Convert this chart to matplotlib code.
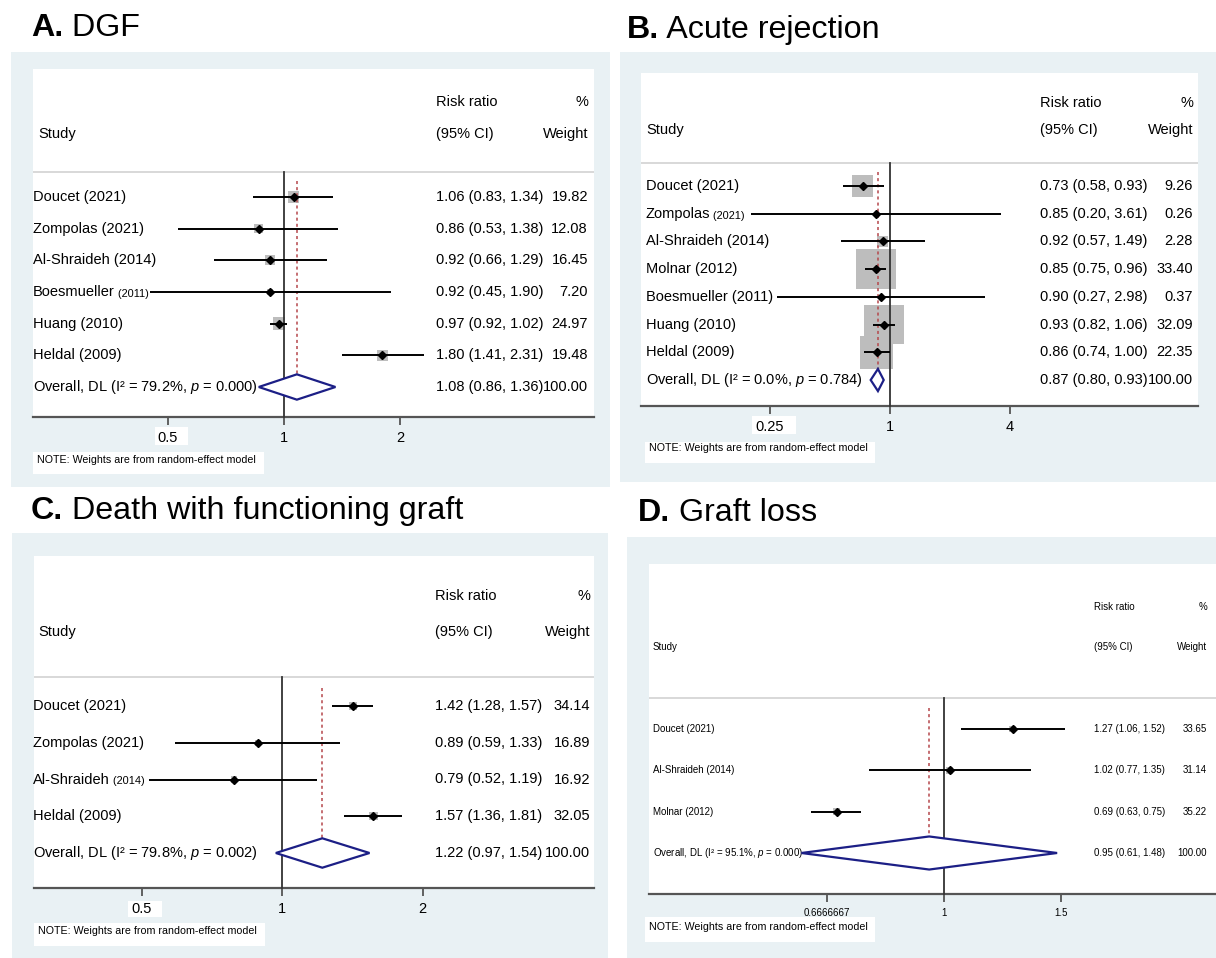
import numpy as np
import matplotlib.pyplot as plt
import matplotlib.transforms as mtransforms
from matplotlib.patches import Rectangle
from matplotlib.ticker import NullLocator

plt.rcParams['font.family'] = 'Liberation Sans'
plt.rcParams['mathtext.fontset'] = 'custom'
plt.rcParams['mathtext.rm'] = 'Liberation Sans'
plt.rcParams['mathtext.it'] = 'Liberation Sans:italic'
plt.rcParams['mathtext.bf'] = 'Liberation Sans:bold'

W, H = 1216, 958
BG = '#e9f1f4'
BOX = '#bdbdbd'
NAVY = '#1c1f86'
RED = '#b5474b'

# ---------------------------
# data
# ---------------------------
dgf_studies = ["Doucet (2021)", "Zompolas (2021)", "Al-Shraideh (2014)",
               "Boesmueller (2011)", "Huang (2010)", "Heldal (2009)"]
dgf_rr = [1.06, 0.86, 0.92, 0.92, 0.97, 1.80]
dgf_lo = [0.83, 0.53, 0.66, 0.45, 0.92, 1.41]
dgf_hi = [1.34, 1.38, 1.29, 1.90, 1.02, 2.31]
dgf_weight = [19.82, 12.08, 16.45, 7.20, 24.97, 19.48]
dgf_overall = [1.08, 0.86, 1.36]
dgf_i2, dgf_p = 79.2, "0.000"

ar_studies = ["Doucet (2021)", "Zompolas (2021)", "Al-Shraideh (2014)", "Molnar (2012)",
              "Boesmueller (2011)", "Huang (2010)", "Heldal (2009)"]
ar_rr = [0.73, 0.85, 0.92, 0.85, 0.90, 0.93, 0.86]
ar_lo = [0.58, 0.20, 0.57, 0.75, 0.27, 0.82, 0.74]
ar_hi = [0.93, 3.61, 1.49, 0.96, 2.98, 1.06, 1.00]
ar_weight = [9.26, 0.26, 2.28, 33.40, 0.37, 32.09, 22.35]
ar_overall = [0.87, 0.80, 0.93]
ar_i2, ar_p = 0.0, "0.784"

dwfg_studies = ["Doucet (2021)", "Zompolas (2021)", "Al-Shraideh (2014)", "Heldal (2009)"]
dwfg_rr = [1.42, 0.89, 0.79, 1.57]
dwfg_lo = [1.28, 0.59, 0.52, 1.36]
dwfg_hi = [1.57, 1.33, 1.19, 1.81]
dwfg_weight = [34.14, 16.89, 16.92, 32.05]
dwfg_overall = [1.22, 0.97, 1.54]
dwfg_i2, dwfg_p = 79.8, "0.002"

gl_studies = ["Doucet (2021)", "Al-Shraideh (2014)", "Molnar (2012)"]
gl_rr = [1.27, 1.02, 0.69]
gl_lo = [1.06, 0.77, 0.63]
gl_hi = [1.52, 1.35, 0.75]
gl_weight = [33.65, 31.14, 35.22]
gl_overall = [0.95, 0.61, 1.48]
gl_i2, gl_p = 95.1, "0.000"


def rect(fig, x0, y0, x1, y1, color, z):
    fig.patches.append(Rectangle((x0 / W, 1 - y1 / H), (x1 - x0) / W, (y1 - y0) / H,
                                 transform=fig.transFigure, facecolor=color,
                                 edgecolor='none', zorder=z))


def forest(fig, letter, title, studies, rr, lo, hi, wt, overall, i2, pval,
           ticks, ticklabels, lay):
    """Stata-style forest plot; lay holds the pixel layout of one panel."""
    rect(fig, *lay['bg'], BG, -1)
    px0, py0, px1, py1 = lay['plot']
    ax = fig.add_axes([px0 / W, 1 - py1 / H, (px1 - px0) / W, (py1 - py0) / H])
    ax.set_facecolor('white')
    ax.set_xscale('log')
    one, ppd = lay['one'], lay['ppd']
    ax.set_xlim(2 ** ((px0 - one) / ppd), 2 ** ((px1 - one) / ppd))

    n = len(studies)
    r0 = lay['row0']
    step = (lay['overall_y'] - r0) / n

    def dy(py):
        return (py - r0) / step

    ax.set_ylim(dy(py1), dy(py0))
    fs = lay['fs']
    tr = mtransforms.blended_transform_factory(ax.transAxes, ax.transData)

    def fx(px):
        return (px - px0) / (px1 - px0)

    # header
    ax.text(fx(lay['est_x']), dy(lay['h1']), "Risk ratio", transform=tr, fontsize=fs, va='center')
    ax.text(fx(lay['w_x']), dy(lay['h1']), "%", transform=tr, fontsize=fs, va='center', ha='right')
    ax.text(fx(lay['study_x']), dy(lay['h2']), "Study", transform=tr, fontsize=fs, va='center')
    ax.text(fx(lay['est_x']), dy(lay['h2']), "(95% CI)", transform=tr, fontsize=fs, va='center')
    ax.text(fx(lay['w_x']), dy(lay['h2']), "Weight", transform=tr, fontsize=fs, va='center', ha='right')
    ax.axhline(dy(lay['sep']), color='#d2d2d2', lw=1.2, zorder=1)

    y = np.arange(n)
    side = lay['box'] * np.sqrt(np.array(wt))
    ax.scatter(rr, y, s=(side * 0.72) ** 2, marker='s', color=BOX, linewidths=0, zorder=2)
    ax.plot([1, 1], [dy(lay['sep']), dy(py1)], color='#333333', lw=1.3, zorder=3, clip_on=False)
    ax.plot([overall[0]] * 2, [-0.5, n + 0.35], color=RED, lw=1.1, dashes=(2, 2), zorder=4)
    ax.hlines(y, lo, hi, color='black', lw=1.4, zorder=5)
    ax.plot(rr, y, 'D', color='black', ms=3.6, zorder=6)

    est, ol, oh = overall
    ax.fill([ol, est, oh, est, ol], [n, n - 0.4, n, n + 0.4, n], facecolor='white',
            edgecolor=NAVY, lw=1.6, zorder=5)

    for i, s in enumerate(studies):
        if i in lay['small_year']:
            name, year = s.rsplit(' ', 1)
            t = ax.text(fx(lay['label_x']), i, name, transform=tr, fontsize=fs, va='center')
            ax.annotate(' ' + year, xy=(1, 0), xycoords=t, va='bottom', fontsize=fs * 0.75)
        else:
            ax.text(fx(lay['label_x']), i, s, transform=tr, fontsize=fs, va='center')
        ax.text(fx(lay['est_x']), i, f"{rr[i]:.2f} ({lo[i]:.2f}, {hi[i]:.2f})",
                transform=tr, fontsize=fs, va='center')
        ax.text(fx(lay['w_x']), i, f"{wt[i]:.2f}", transform=tr, fontsize=fs,
                va='center', ha='right')
    ax.text(fx(lay['label_x']), n, f"Overall, DL (I² = {i2:.1f}%, $p$ = {pval})",
            transform=tr, fontsize=fs, va='center')
    ax.text(fx(lay['est_x']), n, f"{est:.2f} ({ol:.2f}, {oh:.2f})",
            transform=tr, fontsize=fs, va='center')
    ax.text(fx(lay['w_x']), n, f"{100:.2f}", transform=tr, fontsize=fs, va='center', ha='right')

    for sp in ['top', 'left', 'right']:
        ax.spines[sp].set_visible(False)
    ax.spines['bottom'].set_color('#555555')
    ax.spines['bottom'].set_linewidth(1.6)
    ax.set_xticks(ticks)
    ax.set_xticklabels(ticklabels)
    ax.xaxis.set_minor_locator(NullLocator())
    ax.set_yticks([])
    ax.tick_params(axis='x', length=6, width=1.3, color='#555555',
                   labelsize=lay['tick_fs'], pad=4)

    if lay.get('tickbox'):
        rect(fig, *lay['tickbox'], 'white', -0.5)
    rect(fig, *lay['notebox'], 'white', -0.5)
    fig.text(lay['note'][0] / W, 1 - lay['note'][1] / H,
             "NOTE: Weights are from random-effect model", fontsize=7.7, va='center')

    # panel title: bold letter, regular name
    t = fig.text(lay['title'][0] / W, 1 - lay['title'][1] / H, letter,
                 fontsize=23.2, fontweight='bold', va='baseline')
    ax.annotate(' ' + title, xy=(1, 0), xycoords=t, va='bottom', fontsize=23.2,
                annotation_clip=False)
    return ax


fig = plt.figure(figsize=(W / 100, H / 100), dpi=100)
fig.patch.set_facecolor('white')

forest(fig, "A.", "DGF", dgf_studies, dgf_rr, dgf_lo, dgf_hi, dgf_weight,
       dgf_overall, dgf_i2, dgf_p, [0.5, 1, 2], ["0.5", "1", "2"],
       dict(bg=(11, 52, 610, 487), plot=(33, 69, 594, 417), one=284, ppd=116,
            row0=197, overall_y=387, h1=102, h2=134, sep=172, est_x=436, w_x=588,
            label_x=33, study_x=38, fs=10.5, tick_fs=10.5, box=2.5, small_year={3},
            tickbox=(155, 427, 188, 445), notebox=(33, 452, 264, 474), note=(37, 460),
            title=(31, 36)))

forest(fig, "B.", "Acute rejection", ar_studies, ar_rr, ar_lo, ar_hi, ar_weight,
       ar_overall, ar_i2, ar_p, [0.25, 1, 4], ["0.25", "1", "4"],
       dict(bg=(620, 52, 1216, 482), plot=(641, 73, 1198, 406), one=890, ppd=60,
            row0=186, overall_y=380, h1=103, h2=130, sep=163, est_x=1040, w_x=1193,
            label_x=646, study_x=646, fs=10.5, tick_fs=10.5, box=7.0, small_year={1},
            tickbox=(752, 416, 796, 434), notebox=(645, 442, 875, 463), note=(649, 448),
            title=(627, 38)))

forest(fig, "C.", "Death with functioning graft", dwfg_studies, dwfg_rr, dwfg_lo,
       dwfg_hi, dwfg_weight, dwfg_overall, dwfg_i2, dwfg_p, [0.5, 1, 2], ["0.5", "1", "2"],
       dict(bg=(12, 533, 608, 958), plot=(34, 556, 594, 888), one=282, ppd=140.5,
            row0=706, overall_y=853, h1=596, h2=632, sep=677, est_x=435, w_x=590,
            label_x=33, study_x=38, fs=10.5, tick_fs=10.5, box=1.5, small_year={2},
            tickbox=(128, 901, 162, 917), notebox=(34, 923, 265, 946), note=(38, 931),
            title=(31, 519)))

forest(fig, "D.", "Graft loss", gl_studies, gl_rr, gl_lo, gl_hi, gl_weight,
       gl_overall, gl_i2, gl_p, [0.6666667, 1, 1.5], ["0.6666667", "1", "1.5"],
       dict(bg=(627, 537, 1216, 958), plot=(649, 564, 1216, 894), one=944, ppd=200,
            row0=729, overall_y=853, h1=607, h2=647, sep=698, est_x=1094, w_x=1207,
            label_x=653, study_x=653, fs=7.0, tick_fs=7.0, box=1.2, small_year=set(),
            tickbox=None, notebox=(645, 917, 875, 942), note=(649, 927),
            title=(638, 521)))

fig.savefig("out.png", dpi=100)
